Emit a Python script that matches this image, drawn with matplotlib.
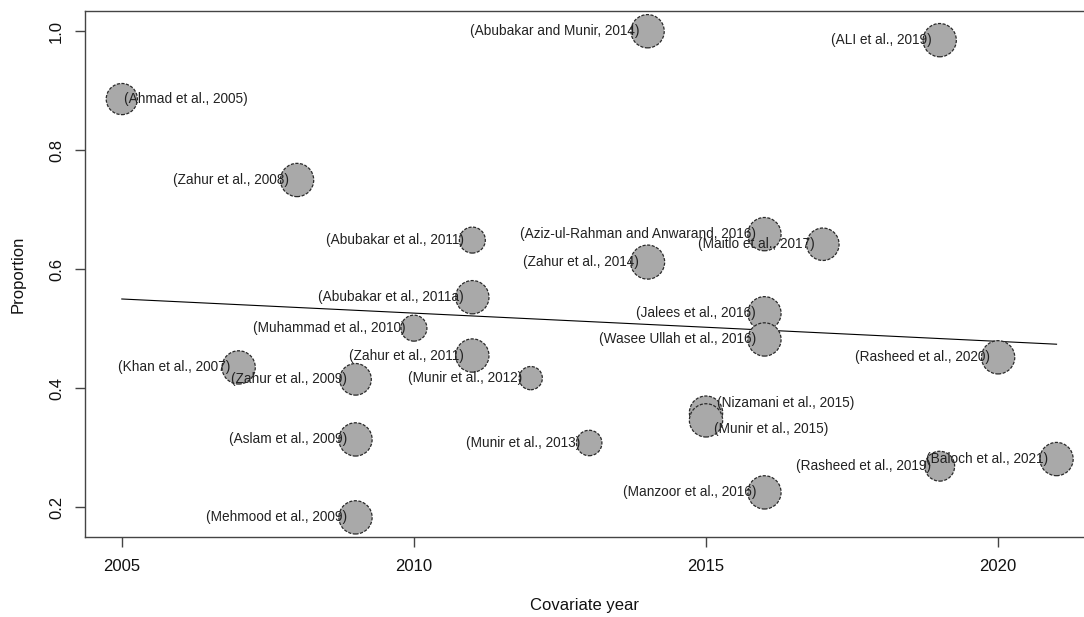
import matplotlib
matplotlib.use("Agg")
import matplotlib.pyplot as plt
import numpy as np

plt.rcParams['font.family'] = ['Liberation Sans', 'DejaVu Sans']

# study-level estimates for the bubble plot
studies = [
    "(Ahmad et al., 2005)", "(Khan et al., 2007)", "(Zahur et al., 2008)",
    "(Zahur et al., 2009)", "(Aslam et al., 2009)", "(Mehmood et al., 2009)",
    "(Muhammad et al., 2010)", "(Abubakar et al., 2011)", "(Abubakar et al., 2011a)",
    "(Zahur et al., 2011)", "(Munir et al., 2012)", "(Munir et al., 2013)",
    "(Abubakar and Munir, 2014)", "(Zahur et al., 2014)", "(Nizamani et al., 2015)",
    "(Munir et al., 2015)", "(Aziz-ul-Rahman and Anwarand, 2016)", "(Jalees et al., 2016)",
    "(Wasee Ullah et al., 2016)", "(Manzoor et al., 2016)", "(Maitlo et al., 2017)",
    "(ALI et al., 2019)", "(Rasheed et al., 2019)", "(Rasheed et al., 2020)",
    "(Baloch et al., 2021)",
]
years = [2005, 2007, 2008, 2009, 2009, 2009, 2010, 2011, 2011, 2011, 2012, 2013,
         2014, 2014, 2015, 2015, 2016, 2016, 2016, 2016, 2017, 2019, 2019, 2020, 2021]
proportion = [0.886, 0.435, 0.750, 0.415, 0.314, 0.183, 0.501, 0.649, 0.553,
              0.455, 0.417, 0.308, 1.000, 0.612, 0.359, 0.346, 0.659, 0.526,
              0.482, 0.225, 0.642, 0.985, 0.269, 0.452, 0.281]
# relative study weights (bubble area)
weights = [3.6, 4.1, 4.1, 3.7, 4.1, 4.1, 2.5, 2.5, 4.1, 4.1, 2.0, 2.4,
           4.1, 4.3, 4.1, 4.1, 4.1, 4.1, 4.1, 4.1, 3.9, 4.1, 3.3, 4.1, 4.1]

# fitted meta-regression line
fit_years = [2005, 2021]
fit_values = [0.550, 0.474]

# label offsets in points (most sit left of the bubble)
label_side = {0: ((1.5, 0), 'left'),
              14: ((8, 7), 'left'),
              15: ((6, -6), 'left')}

fig = plt.figure(figsize=(10.84, 6.17), dpi=100)
ax = fig.add_axes([85 / 1084, 80 / 617, 999 / 1084, 526 / 617])

ax.plot(fit_years, fit_values, color='black', lw=0.8, zorder=1)

sizes = np.array(weights) * 140
ax.scatter(years, proportion, s=sizes, facecolor='#a9a9a9', edgecolor='#2a2a2a',
           linewidths=0.9, linestyles=(0, (2.5, 1.2)), zorder=2)

for i, (name, x, y) in enumerate(zip(studies, years, proportion)):
    off, ha = label_side.get(i, ((-6, 0), 'right'))
    ax.annotate(name, (x, y), xytext=off, textcoords='offset points',
                ha=ha, va='center', fontsize=9.8, color='#222222', zorder=3)

ax.set_xlim(2004.37, 2021.47)
ax.set_ylim(0.150, 1.034)
ax.set_xticks([2005, 2010, 2015, 2020])
ax.set_yticks([0.2, 0.4, 0.6, 0.8, 1.0])
ax.set_yticklabels(['0.2', '0.4', '0.6', '0.8', '1.0'], rotation=90, va='center')

for side in ['left', 'top', 'bottom']:
    ax.spines[side].set_color('#444444')
    ax.spines[side].set_linewidth(1.0)
ax.spines['right'].set_visible(False)

ax.tick_params(axis='both', direction='out', length=7, width=1.0, color='#444444',
               labelsize=12, labelcolor='#111111')
ax.tick_params(axis='x', pad=9)
ax.tick_params(axis='y', pad=8)

ax.set_xlabel('Covariate year', fontsize=12, labelpad=17, color='#111111')
ax.set_ylabel('Proportion', fontsize=12, labelpad=17, color='#111111')

fig.savefig('out.png', dpi=100)
